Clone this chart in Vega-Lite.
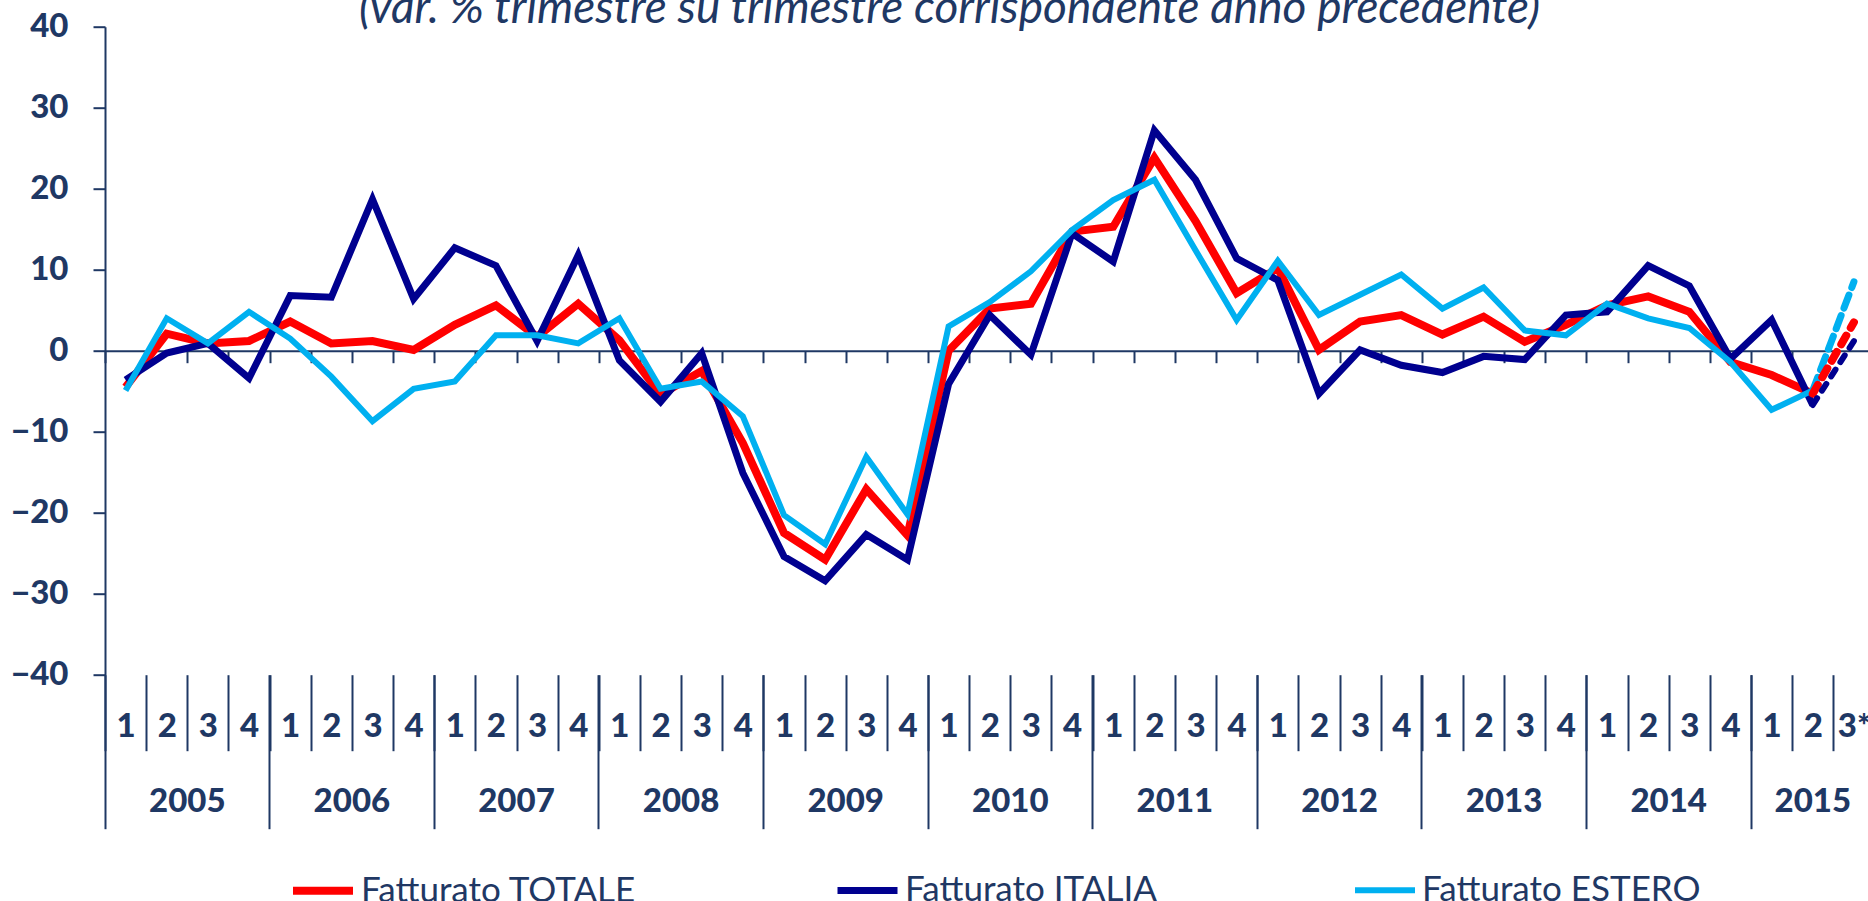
{
  "$schema": "https://vega.github.io/schema/vega-lite/v6.json",
  "autosize": {"type": "none"},
  "width": 1763,
  "height": 648,
  "padding": {"left": 105, "top": 26.7, "right": 0, "bottom": 226.3},
  "background": "white",
  "title": {"text": "(var. % trimestre su trimestre corrispondente anno precedente)", "font": "Lato", "fontStyle": "italic", "fontWeight": "normal", "fontSize": 46, "color": "#1F3864", "anchor": "middle", "frame": "group", "baseline": "alphabetic", "offset": -58, "dx": -37},
  "config": {"view": {"stroke": null}, "font": "Lato"},
  "data": {"values": [
    {"q": "2005-1", "Fatturato TOTALE": -4.5, "Fatturato ITALIA": -3.6, "Fatturato ESTERO": -4.9},
    {"q": "2005-2", "Fatturato TOTALE": 2.1, "Fatturato ITALIA": -0.3, "Fatturato ESTERO": 4.0},
    {"q": "2005-3", "Fatturato TOTALE": 0.9, "Fatturato ITALIA": 0.9, "Fatturato ESTERO": 0.9},
    {"q": "2005-4", "Fatturato TOTALE": 1.2, "Fatturato ITALIA": -3.4, "Fatturato ESTERO": 4.8},
    {"q": "2006-1", "Fatturato TOTALE": 3.6, "Fatturato ITALIA": 6.8, "Fatturato ESTERO": 1.5},
    {"q": "2006-2", "Fatturato TOTALE": 0.9, "Fatturato ITALIA": 6.6, "Fatturato ESTERO": -3.2},
    {"q": "2006-3", "Fatturato TOTALE": 1.2, "Fatturato ITALIA": 18.7, "Fatturato ESTERO": -8.7},
    {"q": "2006-4", "Fatturato TOTALE": 0.1, "Fatturato ITALIA": 6.4, "Fatturato ESTERO": -4.7},
    {"q": "2007-1", "Fatturato TOTALE": 3.2, "Fatturato ITALIA": 12.7, "Fatturato ESTERO": -3.8},
    {"q": "2007-2", "Fatturato TOTALE": 5.6, "Fatturato ITALIA": 10.5, "Fatturato ESTERO": 1.9},
    {"q": "2007-3", "Fatturato TOTALE": 1.7, "Fatturato ITALIA": 1.2, "Fatturato ESTERO": 1.9},
    {"q": "2007-4", "Fatturato TOTALE": 5.8, "Fatturato ITALIA": 11.8, "Fatturato ESTERO": 0.9},
    {"q": "2008-1", "Fatturato TOTALE": 1.3, "Fatturato ITALIA": -1.2, "Fatturato ESTERO": 4.0},
    {"q": "2008-2", "Fatturato TOTALE": -5.4, "Fatturato ITALIA": -6.3, "Fatturato ESTERO": -4.7},
    {"q": "2008-3", "Fatturato TOTALE": -2.5, "Fatturato ITALIA": -0.3, "Fatturato ESTERO": -3.8},
    {"q": "2008-4", "Fatturato TOTALE": -11.4, "Fatturato ITALIA": -15.1, "Fatturato ESTERO": -8.1},
    {"q": "2009-1", "Fatturato TOTALE": -22.5, "Fatturato ITALIA": -25.4, "Fatturato ESTERO": -20.3},
    {"q": "2009-2", "Fatturato TOTALE": -25.8, "Fatturato ITALIA": -28.4, "Fatturato ESTERO": -23.9},
    {"q": "2009-3", "Fatturato TOTALE": -17.1, "Fatturato ITALIA": -22.7, "Fatturato ESTERO": -13.1},
    {"q": "2009-4", "Fatturato TOTALE": -22.8, "Fatturato ITALIA": -25.8, "Fatturato ESTERO": -20.2},
    {"q": "2010-1", "Fatturato TOTALE": 0.0, "Fatturato ITALIA": -4.1, "Fatturato ESTERO": 3.0},
    {"q": "2010-2", "Fatturato TOTALE": 5.2, "Fatturato ITALIA": 4.4, "Fatturato ESTERO": 6.0},
    {"q": "2010-3", "Fatturato TOTALE": 5.8, "Fatturato ITALIA": -0.5, "Fatturato ESTERO": 9.8},
    {"q": "2010-4", "Fatturato TOTALE": 14.7, "Fatturato ITALIA": 14.5, "Fatturato ESTERO": 14.9},
    {"q": "2011-1", "Fatturato TOTALE": 15.3, "Fatturato ITALIA": 11.0, "Fatturato ESTERO": 18.6},
    {"q": "2011-2", "Fatturato TOTALE": 23.8, "Fatturato ITALIA": 27.2, "Fatturato ESTERO": 21.1},
    {"q": "2011-3", "Fatturato TOTALE": 16.0, "Fatturato ITALIA": 21.1, "Fatturato ESTERO": 12.4},
    {"q": "2011-4", "Fatturato TOTALE": 7.1, "Fatturato ITALIA": 11.4, "Fatturato ESTERO": 3.8},
    {"q": "2012-1", "Fatturato TOTALE": 10.2, "Fatturato ITALIA": 8.7, "Fatturato ESTERO": 11.1},
    {"q": "2012-2", "Fatturato TOTALE": 0.1, "Fatturato ITALIA": -5.3, "Fatturato ESTERO": 4.4},
    {"q": "2012-3", "Fatturato TOTALE": 3.6, "Fatturato ITALIA": 0.1, "Fatturato ESTERO": 6.9},
    {"q": "2012-4", "Fatturato TOTALE": 4.4, "Fatturato ITALIA": -1.8, "Fatturato ESTERO": 9.4},
    {"q": "2013-1", "Fatturato TOTALE": 2.0, "Fatturato ITALIA": -2.7, "Fatturato ESTERO": 5.2},
    {"q": "2013-2", "Fatturato TOTALE": 4.2, "Fatturato ITALIA": -0.7, "Fatturato ESTERO": 7.8},
    {"q": "2013-3", "Fatturato TOTALE": 1.1, "Fatturato ITALIA": -1.1, "Fatturato ESTERO": 2.5},
    {"q": "2013-4", "Fatturato TOTALE": 3.2, "Fatturato ITALIA": 4.4, "Fatturato ESTERO": 1.9},
    {"q": "2014-1", "Fatturato TOTALE": 5.6, "Fatturato ITALIA": 4.8, "Fatturato ESTERO": 5.8},
    {"q": "2014-2", "Fatturato TOTALE": 6.7, "Fatturato ITALIA": 10.5, "Fatturato ESTERO": 4.0},
    {"q": "2014-3", "Fatturato TOTALE": 4.8, "Fatturato ITALIA": 8.0, "Fatturato ESTERO": 2.8},
    {"q": "2014-4", "Fatturato TOTALE": -1.4, "Fatturato ITALIA": -1.0, "Fatturato ESTERO": -1.4},
    {"q": "2015-1", "Fatturato TOTALE": -3.0, "Fatturato ITALIA": 3.8, "Fatturato ESTERO": -7.3},
    {"q": "2015-2", "Fatturato TOTALE": -5.3, "Fatturato ITALIA": -6.7, "Fatturato ESTERO": -4.9},
    {"q": "2015-3", "Fatturato TOTALE": 3.5, "Fatturato ITALIA": 1.2, "Fatturato ESTERO": 8.5}
  ]},
  "transform": [{"fold": ["Fatturato TOTALE", "Fatturato ITALIA", "Fatturato ESTERO"], "as": ["serie", "v"]}],
  "layer": [
    {
      "transform": [{"filter": "datum.q != '2015-3'"}],
      "mark": {"type": "line", "strokeJoin": "miter"},
      "encoding": {
        "x": {"field": "q", "type": "ordinal", "bandPosition": 0.5,
          "scale": {"type": "band", "paddingInner": 0, "paddingOuter": 0, "range": [0, 1769.5]},
          "axis": {"orient": "bottom", "tickBand": "extent", "tickSize": 76, "tickColor": "#1F3864", "tickWidth": 2, "domain": false,
            "labelExpr": "isValid(datum.value) ? (datum.value == '2015-3' ? '3*' : substring(datum.value, 5)) : ''",
            "labelFont": "Lato", "labelFontWeight": 900, "labelFontSize": 33, "labelColor": "#1F3864",
            "labelBaseline": "middle", "labelPadding": -24, "labelAngle": 0, "labelOverlap": false, "title": null, "grid": false}},
        "y": {"field": "v", "type": "quantitative",
          "scale": {"domain": [-40, 40], "nice": false, "zero": false},
          "axis": {"values": [-40, -30, -20, -10, 0, 10, 20, 30, 40], "domainColor": "#1F3864", "domainWidth": 2, "tickColor": "#1F3864", "tickWidth": 2, "tickSize": 12,
            "labelFont": "Lato", "labelFontWeight": 900, "labelFontSize": 33, "labelColor": "#1F3864", "labelPadding": 25, "title": null, "grid": false}},
        "color": {"field": "serie", "type": "nominal",
          "scale": {"domain": ["Fatturato TOTALE", "Fatturato ITALIA", "Fatturato ESTERO"], "range": ["#FF0000", "#00008F", "#00B0F0"]},
          "legend": {"orient": "none", "legendX": 184, "legendY": 830, "direction": "horizontal", "title": null,
            "symbolType": "stroke", "symbolSize": 3600, "symbolStrokeWidth": 7,
            "labelFont": "Lato", "labelFontSize": 35, "labelColor": "#1F3864", "labelOffset": 4, "columnPadding": 186, "padding": 0, "labelLimit": 500}},
        "strokeWidth": {"field": "serie", "type": "nominal",
          "scale": {"domain": ["Fatturato TOTALE", "Fatturato ITALIA", "Fatturato ESTERO"], "range": [8, 6, 7]}, "legend": null}
      }
    },
    {
      "transform": [{"filter": "(datum.q == '2015-2' || datum.q == '2015-3') && datum.serie == 'Fatturato ESTERO'"}],
      "mark": {"type": "line", "strokeCap": "round", "color": "#00B0F0", "strokeWidth": 7, "strokeDash": [14, 8]},
      "encoding": {
        "x": {"field": "q", "type": "ordinal", "bandPosition": 0.5,
          "axis": {"orient": "bottom", "offset": -324, "tickBand": "extent", "tickSize": 12, "tickColor": "#1F3864", "tickWidth": 2,
            "domain": true, "domainColor": "#1F3864", "domainWidth": 2, "labels": false, "title": null, "grid": false}},
        "y": {"field": "v", "type": "quantitative", "axis": null}
      }
    },
    {
      "transform": [{"filter": "(datum.q == '2015-2' || datum.q == '2015-3') && datum.serie == 'Fatturato TOTALE'"}],
      "mark": {"type": "line", "strokeCap": "round", "color": "#FF0000", "strokeWidth": 8, "strokeDash": [10, 9]},
      "encoding": {
        "x": {"field": "q", "type": "ordinal", "bandPosition": 0.5, "axis": null},
        "y": {"field": "v", "type": "quantitative", "axis": null}
      }
    },
    {
      "transform": [{"filter": "(datum.q == '2015-2' || datum.q == '2015-3') && datum.serie == 'Fatturato ITALIA'"}],
      "mark": {"type": "line", "strokeCap": "round", "color": "#00008F", "strokeWidth": 6, "strokeDash": [8, 9]},
      "encoding": {
        "x": {"field": "q", "type": "ordinal", "bandPosition": 0.5, "axis": null},
        "y": {"field": "v", "type": "quantitative", "axis": null}
      }
    },
    {
      "mark": {"type": "point", "opacity": 0},
      "encoding": {
        "x": {"field": "q", "type": "ordinal", "bandPosition": 0.5,
          "axis": {"orient": "bottom", "values": ["2005-1", "2006-1", "2007-1", "2008-1", "2009-1", "2010-1", "2011-1", "2012-1", "2013-1", "2014-1", "2015-1"],
            "bandPosition": 0, "tickSize": 154, "tickColor": "#1F3864", "tickWidth": 2, "domain": false, "labels": false, "title": null, "grid": false}},
        "y": {"field": "v", "type": "quantitative", "axis": null}
      }
    },
    {
      "mark": {"type": "point", "opacity": 0},
      "encoding": {
        "x": {"field": "q", "type": "ordinal", "bandPosition": 0.5,
          "axis": {"orient": "bottom", "values": ["2005-3", "2006-3", "2007-3", "2008-3", "2009-3", "2010-3", "2011-3", "2012-3", "2013-3", "2014-3", "2015-2"],
            "ticks": false, "tickSize": 0, "domain": false,
            "labelExpr": "substring(datum.value, 0, 4)",
            "labelOffset": {"condition": {"test": "datum.value === '2015-2'", "value": 0}, "value": -20.6},
            "labelFont": "Lato", "labelFontWeight": 900, "labelFontSize": 33, "labelColor": "#1F3864",
            "labelBaseline": "middle", "labelPadding": 127, "labelAngle": 0, "labelOverlap": false, "title": null, "grid": false}},
        "y": {"field": "v", "type": "quantitative", "axis": null}
      }
    }
  ],
  "resolve": {"axis": {"x": "independent", "y": "independent"}}
}
